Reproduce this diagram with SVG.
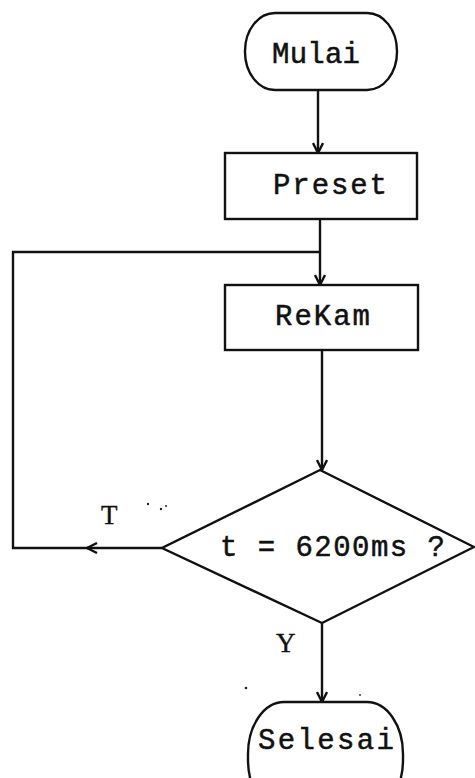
<svg xmlns="http://www.w3.org/2000/svg" width="475" height="778" viewBox="0 0 475 778">
  <style>
    .shape { fill: none; stroke: #111; stroke-width: 2.4; }
    .edge { fill: none; stroke: #111; stroke-width: 2.4; }
    .lbl { font-family: "Liberation Mono", "Courier New", monospace; font-size: 29px; fill: #111; stroke: #111; stroke-width: 0.5; }
    .tag { font-family: "Liberation Serif", "Times New Roman", serif; font-size: 27px; fill: #111; stroke: #111; stroke-width: 0.4; }
  </style>
  <defs>
    <marker id="arrow" viewBox="0 0 12 12" refX="11" refY="6" markerWidth="12" markerHeight="12" markerUnits="userSpaceOnUse" orient="auto">
      <path d="M1,1 L11,6 L1,11" fill="none" stroke="#111" stroke-width="2.4"/>
    </marker>
  </defs>
  <rect width="475" height="778" fill="#fff"/>

  <g id="connectors">
    <path class="edge" d="M318,90 V153" marker-end="url(#arrow)"/>
    <path class="edge" d="M320,219 V285" marker-end="url(#arrow)"/>
    <path class="edge" d="M322,350 V470" marker-end="url(#arrow)"/>
    <path class="edge" d="M322,623 V702" marker-end="url(#arrow)"/>
    <path class="edge" d="M162,548 H87" marker-end="url(#arrow)"/>
    <path class="edge" d="M90,548 H13 V252 H320"/>
    <text class="tag" x="101" y="524">T</text>
    <text class="tag" x="276" y="652">Y</text>
  </g>

  <g id="mulai">
    <rect class="shape" x="245" y="13" width="152" height="77" rx="30" ry="38"/>
    <text class="lbl" x="272" y="63" textLength="88" lengthAdjust="spacing">Mulai</text>
  </g>

  <g id="preset">
    <rect class="shape" x="225" y="153" width="192" height="66"/>
    <text class="lbl" x="273" y="194" textLength="114" lengthAdjust="spacing">Preset</text>
  </g>

  <g id="rekam">
    <rect class="shape" x="225" y="285" width="193" height="65"/>
    <text class="lbl" x="275" y="325" textLength="95" lengthAdjust="spacing">ReKam</text>
  </g>

  <g id="cek-waktu">
    <polygon class="shape" points="320,470 474,547 322,623 162,548"/>
    <text class="lbl" x="220" y="556" textLength="225" lengthAdjust="spacing">t = 6200ms ?</text>
  </g>

  <g id="selesai">
    <rect class="shape" x="248" y="702" width="155" height="110" rx="36" ry="52"/>
    <text class="lbl" x="258" y="749" textLength="136" lengthAdjust="spacing">Selesai</text>
  </g>

  <!-- stray specks -->
  <g id="specks" fill="#222">
    <circle cx="148" cy="504" r="1.2"/>
    <circle cx="161" cy="509" r="1.2"/>
    <circle cx="166" cy="506" r="1"/>
    <circle cx="246" cy="688" r="1.3"/>
    <circle cx="360" cy="695" r="0.9"/>
  </g>
</svg>
